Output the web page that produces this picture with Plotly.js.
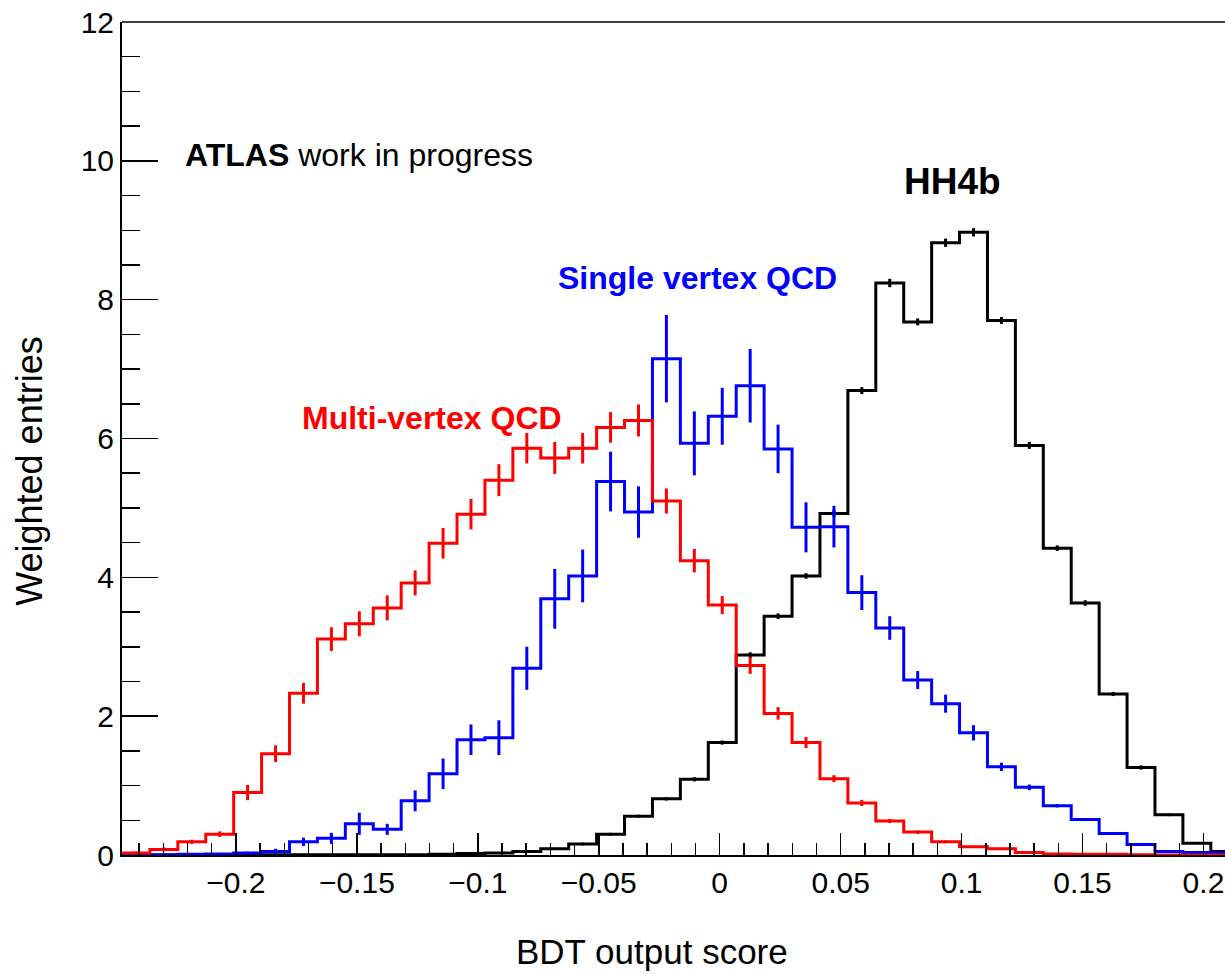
<!DOCTYPE html>
<html>
<head>
<meta charset="utf-8">
<script src="https://cdn.plot.ly/plotly-3.0.1.min.js"></script>
<style>
  html, body { margin: 0; padding: 0; background: #ffffff; overflow: hidden; }
  #chart { width: 1225px; height: 974px; }
</style>
</head>
<body>
<div id="chart"></div>
<script>
// Histogram binning (40 bins)
const binLow = -0.2471;
const binWidth = 0.011542;
const nBins = 40;

// Multi-vertex QCD (red)
const multiVertexQCD = [0.03, 0.08, 0.19, 0.30, 0.90, 1.46, 2.33, 3.11, 3.33, 3.56,
  3.92, 4.49, 4.91, 5.40, 5.86, 5.72, 5.86, 6.16, 6.26, 5.10,
  4.24, 3.60, 2.73, 2.04, 1.62, 1.10, 0.75, 0.49, 0.33, 0.19,
  0.12, 0.09, 0.035, 0.015, 0.01, 0.01, 0.005, 0, 0, 0];
const multiVertexErr = [0.02, 0.03, 0.03, 0.04, 0.11, 0.12, 0.15, 0.17, 0.18, 0.18,
  0.18, 0.22, 0.22, 0.23, 0.22, 0.23, 0.22, 0.22, 0.23, 0.18,
  0.17, 0.13, 0.12, 0.09, 0.08, 0.05, 0.045, 0.03, 0.025, 0.02,
  0.015, 0.01, 0.01, 0.01, 0.005, 0.005, 0.005, 0, 0, 0];

// Single vertex QCD (blue)
const singleVertexQCD = [0.0, 0.005, 0.01, 0.015, 0.03, 0.05, 0.19, 0.24, 0.45, 0.37,
  0.78, 1.17, 1.66, 1.69, 2.69, 3.69, 4.02, 5.38, 4.94, 7.15,
  5.93, 6.32, 6.76, 5.85, 4.72, 4.73, 3.78, 3.27, 2.52, 2.18,
  1.76, 1.27, 0.975, 0.71, 0.51, 0.31, 0.15, 0.05, 0.035, 0.03];
const singleVertexErr = [0, 0.01, 0.01, 0.015, 0.02, 0.04, 0.06, 0.08, 0.16, 0.08,
  0.15, 0.22, 0.22, 0.25, 0.31, 0.43, 0.38, 0.43, 0.37, 0.63,
  0.46, 0.41, 0.53, 0.35, 0.36, 0.30, 0.25, 0.17, 0.13, 0.13,
  0.11, 0.06, 0.04, 0.025, 0.02, 0.015, 0.01, 0.01, 0.01, 0.01];

// HH4b signal (black)
const hh4b = [0, 0, 0.003, 0.003, 0.003, 0.003, 0.003, 0.003, 0.003, 0.003,
  0.005, 0.01, 0.02, 0.03, 0.05, 0.09, 0.16, 0.30, 0.56, 0.81,
  1.09, 1.62, 2.88, 3.44, 4.02, 4.92, 6.69, 8.24, 7.68, 8.82,
  8.97, 7.70, 5.90, 4.42, 3.63, 2.32, 1.26, 0.58, 0.17, 0.05];
const hh4bErr = [0, 0, 0.002, 0.002, 0.002, 0.002, 0.002, 0.002, 0.002, 0.002,
  0.003, 0.005, 0.008, 0.01, 0.01, 0.015, 0.02, 0.02, 0.02, 0.025,
  0.03, 0.03, 0.04, 0.04, 0.04, 0.05, 0.05, 0.06, 0.05, 0.06,
  0.06, 0.05, 0.05, 0.04, 0.04, 0.03, 0.03, 0.02, 0.01, 0.01];

// Axis ticks
const xTickStep = 0.05, xMinorStep = 0.01;
const yTickStep = 2, yMinorStep = 0.5;
const yMax = 12;

const edges = [], centers = [];
for (let k = 0; k <= nBins; k++) edges.push(binLow + k * binWidth);
for (let k = 0; k < nBins; k++) centers.push(binLow + (k + 0.5) * binWidth);

function stepTrace(vals, color) {
  return {
    type: 'scatter', mode: 'lines',
    x: edges, y: vals.concat([vals[vals.length - 1]]),
    line: { shape: 'hv', color: color, width: 3 },
    hoverinfo: 'skip', showlegend: false
  };
}
function errTrace(vals, errs, color) {
  return {
    type: 'scatter', mode: 'markers',
    x: centers, y: vals,
    marker: { size: 1, color: color, opacity: 0 },
    error_y: { type: 'data', array: errs, visible: true, color: color, thickness: 3, width: 0 },
    hoverinfo: 'skip', showlegend: false
  };
}

const data = [
  stepTrace(hh4b, '#000000'), errTrace(hh4b, hh4bErr, '#000000'),
  stepTrace(singleVertexQCD, '#0000ff'), errTrace(singleVertexQCD, singleVertexErr, '#0000ff'),
  stepTrace(multiVertexQCD, '#ff0000'), errTrace(multiVertexQCD, multiVertexErr, '#ff0000')
];

const FONT = 'Liberation Sans, Arial, Helvetica, sans-serif';

const layout = {
  width: 1225, height: 974,
  margin: { l: 122, r: 0, t: 22, b: 119, pad: 0 },
  paper_bgcolor: '#ffffff', plot_bgcolor: '#ffffff',
  font: { family: FONT, color: '#000000' },
  showlegend: false,
  xaxis: {
    range: [binLow, 0.2089],
    tick0: 0, dtick: xTickStep,
    ticks: 'inside', ticklen: 22, tickwidth: 1.5, tickcolor: '#000000',
    minor: { dtick: xMinorStep, ticks: 'inside', ticklen: 12, tickwidth: 1.5, tickcolor: '#000000', showgrid: false },
    showline: true, linewidth: 2, linecolor: '#000000',
    showgrid: false, zeroline: false,
    tickfont: { size: 30, family: FONT, color: '#000000' }
  },
  yaxis: {
    range: [0, yMax],
    tick0: 0, dtick: yTickStep,
    ticks: 'inside', ticklen: 36, tickwidth: 1.5, tickcolor: '#000000',
    minor: { dtick: yMinorStep, ticks: 'inside', ticklen: 18, tickwidth: 1.5, tickcolor: '#000000', showgrid: false },
    showline: true, linewidth: 2, linecolor: '#000000',
    showgrid: false, zeroline: false,
    tickfont: { size: 30, family: FONT, color: '#000000' }
  },
  shapes: [
    { type: 'line', xref: 'paper', yref: 'paper', x0: 0, x1: 1, y0: 1, y1: 1,
      line: { color: '#000000', width: 1.5 } }
  ],
  annotations: [
    { xref: 'paper', yref: 'paper', x: 0.0553, y: 0.8406, xanchor: 'left', yanchor: 'middle',
      text: '<b>ATLAS</b> work in progress', showarrow: false,
      font: { size: 32, family: FONT, color: '#000000' } },
    { xref: 'paper', yref: 'paper', x: 0.7525, y: 0.8086, xanchor: 'center', yanchor: 'middle',
      text: '<b>HH4b</b>', showarrow: false,
      font: { size: 37, family: FONT, color: '#000000' } },
    { xref: 'paper', yref: 'paper', x: 0.5222, y: 0.693, xanchor: 'center', yanchor: 'middle',
      text: '<b>Single vertex QCD</b>', showarrow: false,
      font: { size: 32, family: FONT, color: '#0000ff' } },
    { xref: 'paper', yref: 'paper', x: 0.2815, y: 0.5248, xanchor: 'center', yanchor: 'middle',
      text: '<b>Multi-vertex QCD</b>', showarrow: false,
      font: { size: 32, family: FONT, color: '#ff0000' } },
    { xref: 'paper', yref: 'paper', x: 0.4805, y: -0.1417, xanchor: 'center', yanchor: 'bottom',
      text: 'BDT output score', showarrow: false,
      font: { size: 35, family: FONT, color: '#000000' } },
    { xref: 'paper', yref: 'paper', x: -0.0834, y: 0.4612, xanchor: 'center', yanchor: 'middle',
      text: 'Weighted entries', textangle: -90, showarrow: false,
      font: { size: 36, family: FONT, color: '#000000' } }
  ]
};

Plotly.newPlot('chart', data, layout, { staticPlot: true, displayModeBar: false });
</script>
</body>
</html>
